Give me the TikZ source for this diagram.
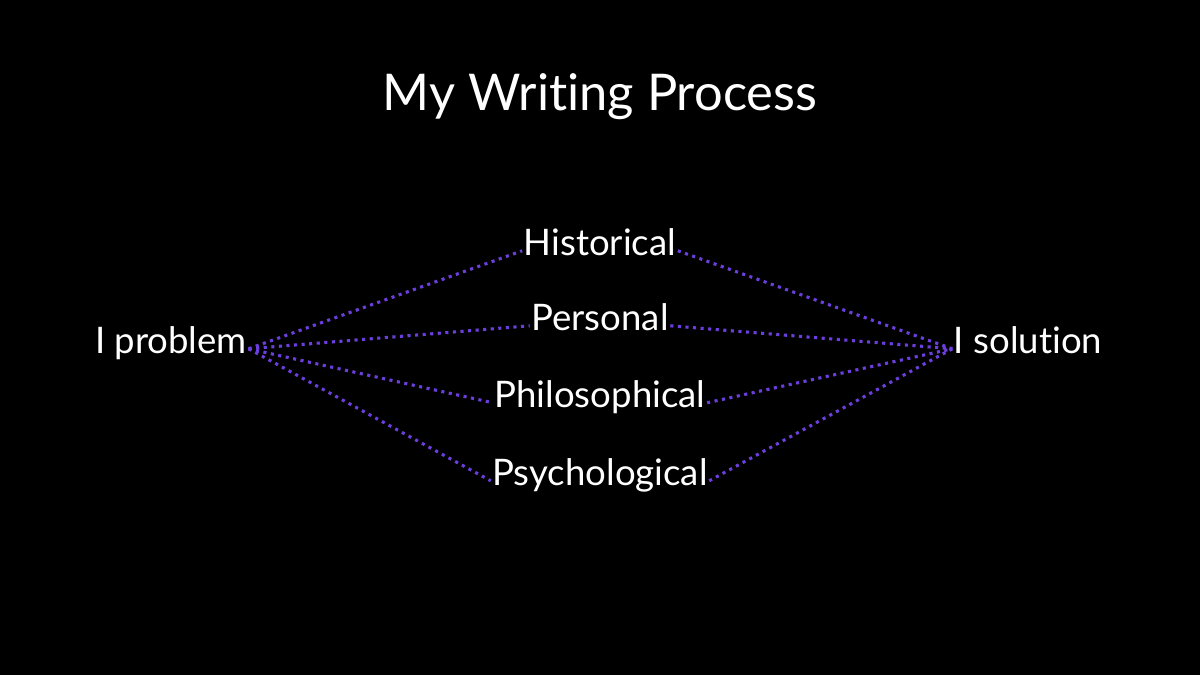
\documentclass[tikz,border=0pt]{standalone}
\usepackage{fontspec}
\setmainfont{Lato}[Ligatures=NoCommon]
\definecolor{linkpurple}{RGB}{108,62,222}
\tikzset{
    label/.style={text=white, anchor=base, inner sep=1pt, text height=0.6em, text depth=0pt,
        font=\fontsize{26}{30}\selectfont},
    link/.style={linkpurple, line width=2.2pt, dash pattern=on 2.2pt off 3.2pt}
}
\begin{document}
\begin{tikzpicture}
    \fill [black] (0, 0) rectangle (30, 16.875);
    \useasboundingbox (0, 0) rectangle (30, 16.875);
    \node [label, font=\fontsize{36}{42}\selectfont] (title) at (15, 14.1) {My Writing Process};
    \node [label] (problem) at (4.275, 8.05) {I problem};
    \node [label] (solution) at (25.7, 8.05) {I solution};
    \node [label] (hist) at (15, 10.5) {Historical};
    \node [label] (pers) at (15, 8.625) {Personal};
    \node [label] (phil) at (15, 6.7) {Philosophical};
    \node [label] (psych) at (15, 4.75) {Psychological};
    \foreach \n in {hist, pers, phil, psych} {
        \draw [link] (problem.east) -- (\n.west);
        \draw [link] (\n.east) -- (solution.west);
    }
\end{tikzpicture}
\end{document}
